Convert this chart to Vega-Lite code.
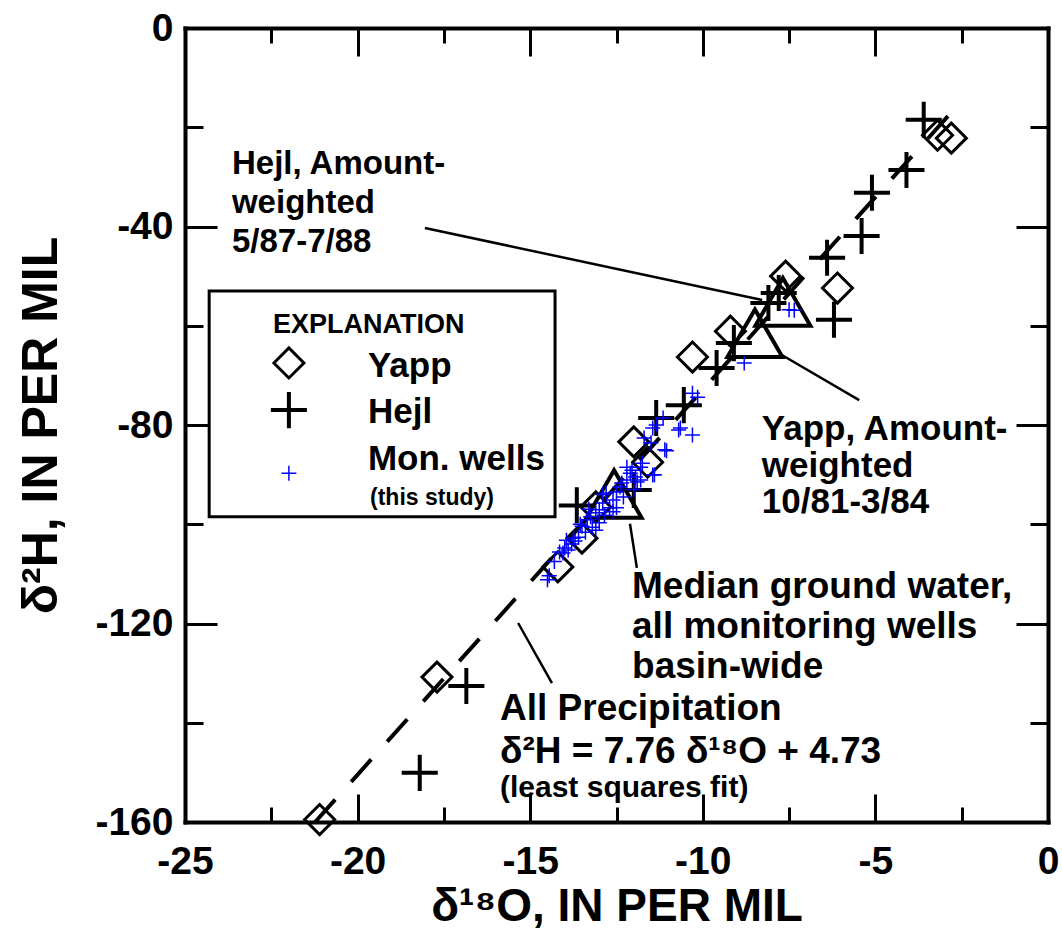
{
 "$schema": "https://vega.github.io/schema/vega-lite/v6.json",
 "width": 863, "height": 794,
 "autosize": {"type": "none"},
 "padding": {"left": 185, "top": 28, "right": 14, "bottom": 113},
 "background": "white",
 "config": {
  "view": {"stroke": null},
  "axis": {"grid": false, "domainColor": "#000", "tickColor": "#000", "labelColor": "#000", "titleColor": "#000", "labelFont": "Liberation Sans", "titleFont": "Liberation Sans", "labelFontWeight": "bold", "titleFontWeight": "bold", "labelFlush": false, "labelOverlap": false, "labelBound": false, "domainCap": "square", "tickWidth": 3, "domainWidth": 4},
  "text": {"font": "Liberation Sans", "fontWeight": "bold", "color": "#000", "align": "left", "baseline": "alphabetic"}
 },
 "datasets": {
  "pts": [
   {"series": "Yapp", "d18O": -21.1, "d2H": -159.5},
   {"series": "Yapp", "d18O": -17.7, "d2H": -130.8},
   {"series": "Yapp", "d18O": -14.2, "d2H": -108.6},
   {"series": "Yapp", "d18O": -13.5, "d2H": -102.8},
   {"series": "Yapp", "d18O": -13.1, "d2H": -96.5},
   {"series": "Yapp", "d18O": -12.0, "d2H": -83.4},
   {"series": "Yapp", "d18O": -11.6, "d2H": -87.5},
   {"series": "Yapp", "d18O": -10.3, "d2H": -66.3},
   {"series": "Yapp", "d18O": -9.2, "d2H": -61.1},
   {"series": "Yapp", "d18O": -7.6, "d2H": -50.0},
   {"series": "Yapp", "d18O": -6.1, "d2H": -52.4},
   {"series": "Yapp", "d18O": -3.2, "d2H": -21.6},
   {"series": "Yapp", "d18O": -2.8, "d2H": -22.2},
   {"series": "Hejl", "d18O": -18.2, "d2H": -150.1},
   {"series": "Hejl", "d18O": -16.85, "d2H": -132.6},
   {"series": "Hejl", "d18O": -13.65, "d2H": -96.2},
   {"series": "Hejl", "d18O": -12.0, "d2H": -93.1},
   {"series": "Hejl", "d18O": -11.35, "d2H": -78.6},
   {"series": "Hejl", "d18O": -10.55, "d2H": -76.0},
   {"series": "Hejl", "d18O": -9.6, "d2H": -68.5},
   {"series": "Hejl", "d18O": -9.1, "d2H": -63.5},
   {"series": "Hejl", "d18O": -8.1, "d2H": -55.4},
   {"series": "Hejl", "d18O": -7.8, "d2H": -53.4},
   {"series": "Hejl", "d18O": -6.2, "d2H": -58.8},
   {"series": "Hejl", "d18O": -6.4, "d2H": -46.3},
   {"series": "Hejl", "d18O": -5.4, "d2H": -41.9},
   {"series": "Hejl", "d18O": -5.1, "d2H": -33.2},
   {"series": "Hejl", "d18O": -4.1, "d2H": -28.6},
   {"series": "Hejl", "d18O": -3.6, "d2H": -18.5},
   {"series": "Mon", "d18O": -14.5, "d2H": -111.2},
   {"series": "Mon", "d18O": -14.45, "d2H": -110.4},
   {"series": "Mon", "d18O": -14.15, "d2H": -105.6},
   {"series": "Mon", "d18O": -14.0, "d2H": -104.8},
   {"series": "Mon", "d18O": -13.9, "d2H": -105.2},
   {"series": "Mon", "d18O": -14.05, "d2H": -105.8},
   {"series": "Mon", "d18O": -13.75, "d2H": -102.8},
   {"series": "Mon", "d18O": -13.6, "d2H": -102.6},
   {"series": "Mon", "d18O": -13.7, "d2H": -103.4},
   {"series": "Mon", "d18O": -13.4, "d2H": -101.6},
   {"series": "Mon", "d18O": -13.5, "d2H": -100.4},
   {"series": "Mon", "d18O": -13.35, "d2H": -99.1},
   {"series": "Mon", "d18O": -13.25, "d2H": -98.5},
   {"series": "Mon", "d18O": -13.2, "d2H": -100.6},
   {"series": "Mon", "d18O": -13.1, "d2H": -101.2},
   {"series": "Mon", "d18O": -13.1, "d2H": -97.7},
   {"series": "Mon", "d18O": -13.0, "d2H": -97.1},
   {"series": "Mon", "d18O": -13.0, "d2H": -99.7},
   {"series": "Mon", "d18O": -12.9, "d2H": -95.7},
   {"series": "Mon", "d18O": -12.8, "d2H": -93.7},
   {"series": "Mon", "d18O": -12.7, "d2H": -96.7},
   {"series": "Mon", "d18O": -12.6, "d2H": -95.1},
   {"series": "Mon", "d18O": -12.5, "d2H": -96.7},
   {"series": "Mon", "d18O": -12.5, "d2H": -93.5},
   {"series": "Mon", "d18O": -12.4, "d2H": -92.5},
   {"series": "Mon", "d18O": -12.3, "d2H": -94.5},
   {"series": "Mon", "d18O": -12.2, "d2H": -91.1},
   {"series": "Mon", "d18O": -12.35, "d2H": -91.7},
   {"series": "Mon", "d18O": -12.2, "d2H": -88.5},
   {"series": "Mon", "d18O": -12.1, "d2H": -89.7},
   {"series": "Mon", "d18O": -12.05, "d2H": -89.1},
   {"series": "Mon", "d18O": -11.95, "d2H": -90.5},
   {"series": "Mon", "d18O": -11.9, "d2H": -91.5},
   {"series": "Mon", "d18O": -11.8, "d2H": -88.5},
   {"series": "Mon", "d18O": -11.75, "d2H": -87.7},
   {"series": "Mon", "d18O": -11.8, "d2H": -91.1},
   {"series": "Mon", "d18O": -11.45, "d2H": -90.1},
   {"series": "Mon", "d18O": -11.4, "d2H": -90.0},
   {"series": "Mon", "d18O": -11.7, "d2H": -82.6},
   {"series": "Mon", "d18O": -11.5, "d2H": -83.6},
   {"series": "Mon", "d18O": -11.45, "d2H": -80.6},
   {"series": "Mon", "d18O": -11.35, "d2H": -80.0},
   {"series": "Mon", "d18O": -11.15, "d2H": -78.6},
   {"series": "Mon", "d18O": -11.1, "d2H": -85.0},
   {"series": "Mon", "d18O": -11.05, "d2H": -85.2},
   {"series": "Mon", "d18O": -10.7, "d2H": -81.0},
   {"series": "Mon", "d18O": -10.65, "d2H": -80.6},
   {"series": "Mon", "d18O": -10.3, "d2H": -82.0},
   {"series": "Mon", "d18O": -10.3, "d2H": -73.6},
   {"series": "Mon", "d18O": -10.15, "d2H": -74.4},
   {"series": "Mon", "d18O": -8.8, "d2H": -67.5},
   {"series": "Mon", "d18O": -7.5, "d2H": -56.8},
   {"series": "Mon", "d18O": -7.35, "d2H": -56.9},
   {"series": "Mon", "d18O": -12.6, "d2H": -97.5},
   {"series": "Mon", "d18O": -12.85, "d2H": -98.2},
   {"series": "Mon", "d18O": -13.3, "d2H": -97.0},
   {"series": "Mon", "d18O": -12.0, "d2H": -93.0},
   {"series": "Mon", "d18O": -12.9, "d2H": -94.0},
   {"series": "Mon", "d18O": -13.55, "d2H": -100.0},
   {"series": "Mon", "d18O": -13.8, "d2H": -104.0},
   {"series": "Mon", "d18O": -14.3, "d2H": -107.5},
   {"series": "Mon", "d18O": -13.95, "d2H": -103.2}
  ],
  "key": [
   {"series": "Yapp", "d18O": -21.99, "d2H": -67.5},
   {"series": "Hejl", "d18O": -21.99, "d2H": -77.0},
   {"series": "Mon", "d18O": -21.99, "d2H": -89.7}
  ],
  "weighted": [
   {"label": "Hejl amount-weighted", "d18O": -7.68, "d2H": -55.2},
   {"label": "Yapp amount-weighted", "d18O": -8.49, "d2H": -61.5},
   {"label": "Median ground water", "d18O": -12.57, "d2H": -93.9}
  ],
  "fit": [
   {"d18O": -21.23, "d2H": -160.0},
   {"d18O": -2.75, "d2H": -16.61}
  ],
  "leaders": [
   {"x1": -18.05, "y1": -40.3, "x2": -8.28, "y2": -54.8},
   {"x1": -7.71, "y1": -65.9, "x2": -5.47, "y2": -75.0},
   {"x1": -12.11, "y1": -99.9, "x2": -11.91, "y2": -108.8},
   {"x1": -15.35, "y1": -119.9, "x2": -14.37, "y2": -132.0}
  ],
  "box": [
   {"x1": -24.3, "x2": -14.28, "y1": -53.0, "y2": -98.5}
  ],
  "annHejl": [
   {"d18O": -23.64, "d2H": -29.4, "text": "Hejl, Amount-"},
   {"d18O": -23.64, "d2H": -37.3, "text": "weighted"},
   {"d18O": -23.64, "d2H": -45.2, "text": "5/87-7/88"}
  ],
  "annYapp": [
   {"d18O": -8.29, "d2H": -83.0, "text": "Yapp, Amount-"},
   {"d18O": -8.29, "d2H": -90.5, "text": "weighted"},
   {"d18O": -8.29, "d2H": -97.8, "text": "10/81-3/84"},
   {"d18O": -19.7, "d2H": -70.3, "text": "Yapp"},
   {"d18O": -19.7, "d2H": -79.6, "text": "Hejl"},
   {"d18O": -19.7, "d2H": -89.1, "text": "Mon. wells"}
  ],
  "annBig": [
   {"d18O": -12.05, "d2H": -114.9, "text": "Median ground water,"},
   {"d18O": -12.05, "d2H": -122.9, "text": "all monitoring wells"},
   {"d18O": -12.05, "d2H": -131.0, "text": "basin-wide"},
   {"d18O": -15.875, "d2H": -139.4, "text": "All Precipitation"},
   {"d18O": -15.875, "d2H": -148.1, "text": "δ²H = 7.76 δ¹⁸O + 4.73"}
  ],
  "head": [
   {"d18O": -22.45, "d2H": -61.5, "text": "EXPLANATION"}
  ],
  "small": [
   {"d18O": -15.875, "d2H": -155.0, "text": "(least squares fit)"}
  ],
  "tiny": [
   {"d18O": -19.64, "d2H": -96.1, "text": "(this study)"}
  ]
 },
 "layer": [
  {
   "data": {"name": "box"},
   "mark": {"type": "rect", "fill": "white", "stroke": "#000", "strokeWidth": 3},
   "encoding": {
    "x": {"field": "x1", "type": "quantitative", "scale": {"domain": [-25, 0], "nice": false, "zero": false},
          "axis": {"orient": "bottom", "values": [-25, -20, -15, -10, -5, 0], "labelExpr": "'' + datum.value", "tickSize": -28, "labelPadding": 48, "labelFontSize": 39, "title": "δ¹⁸O, IN PER MIL", "titleFontSize": 46, "titlePadding": 3}},
    "x2": {"field": "x2"},
    "y": {"field": "y1", "type": "quantitative", "scale": {"domain": [-160, 0], "nice": false, "zero": false},
          "axis": {"orient": "left", "values": [0, -40, -80, -120, -160], "labelExpr": "'' + datum.value", "tickSize": -32, "labelPadding": 44, "labelFontSize": 39, "title": "δ²H, IN PER MIL", "titleFontSize": 50, "titlePadding": 28}},
    "y2": {"field": "y2"}
   }
  },
  {
   "data": {"name": "leaders"},
   "mark": {"type": "rule", "stroke": "#000", "strokeWidth": 2.5},
   "encoding": {
    "x": {"field": "x1", "type": "quantitative", "scale": {"domain": [-25, 0], "nice": false, "zero": false},
          "axis": {"orient": "top", "values": [-25, -20, -15, -10, -5, 0], "tickSize": -28, "labels": false, "title": null}},
    "x2": {"field": "x2"},
    "y": {"field": "y1", "type": "quantitative", "scale": {"domain": [-160, 0], "nice": false, "zero": false},
          "axis": {"orient": "right", "values": [0, -40, -80, -120, -160], "tickSize": -32, "labels": false, "title": null}},
    "y2": {"field": "y2"}
   }
  },
  {
   "data": {"name": "pts"},
   "transform": [{"filter": "datum.series === 'Yapp'"}],
   "mark": {"type": "point", "shape": "diamond", "filled": false, "stroke": "#000", "strokeWidth": 3, "size": 900, "opacity": 1},
   "encoding": {
    "x": {"field": "d18O", "type": "quantitative", "scale": {"domain": [-25, 0], "nice": false, "zero": false},
          "axis": {"orient": "bottom", "values": [-22.5, -17.5, -12.5, -7.5, -2.5], "tickSize": -15, "labels": false, "domain": false, "title": null}},
    "y": {"field": "d2H", "type": "quantitative", "scale": {"domain": [-160, 0], "nice": false, "zero": false},
          "axis": {"orient": "left", "values": [-20, -60, -100, -140], "tickSize": -18, "labels": false, "domain": false, "title": null}}
   }
  },
  {
   "data": {"name": "pts"},
   "transform": [{"filter": "datum.series === 'Hejl'"}],
   "mark": {"type": "point", "shape": "M-1,0H1M0,-1V1", "filled": false, "stroke": "#000", "strokeWidth": 4, "size": 1300, "opacity": 1},
   "encoding": {
    "x": {"field": "d18O", "type": "quantitative", "scale": {"domain": [-25, 0], "nice": false, "zero": false},
          "axis": {"orient": "top", "values": [-22.5, -17.5, -12.5, -7.5, -2.5], "tickSize": -15, "labels": false, "domain": false, "title": null}},
    "y": {"field": "d2H", "type": "quantitative", "scale": {"domain": [-160, 0], "nice": false, "zero": false},
          "axis": {"orient": "right", "values": [-20, -60, -100, -140], "tickSize": -18, "labels": false, "domain": false, "title": null}}
   }
  },
  {
   "data": {"name": "weighted"},
   "mark": {"type": "point", "shape": "triangle-up", "filled": false, "stroke": "#000", "strokeWidth": 4, "size": 3025, "opacity": 1},
   "encoding": {
    "x": {"field": "d18O", "type": "quantitative", "scale": {"domain": [-25, 0], "nice": false, "zero": false}, "axis": null},
    "y": {"field": "d2H", "type": "quantitative", "scale": {"domain": [-160, 0], "nice": false, "zero": false}, "axis": null}
   }
  },
  {
   "data": {"name": "fit"},
   "mark": {"type": "line", "stroke": "#000", "strokeWidth": 4, "strokeDash": [30, 24]},
   "encoding": {
    "x": {"field": "d18O", "type": "quantitative", "scale": {"domain": [-25, 0], "nice": false, "zero": false}, "axis": null},
    "y": {"field": "d2H", "type": "quantitative", "scale": {"domain": [-160, 0], "nice": false, "zero": false}, "axis": null}
   }
  },
  {
   "data": {"name": "pts"},
   "transform": [{"filter": "datum.series === 'Mon'"}],
   "mark": {"type": "point", "shape": "M-1,0H1M0,-1V1", "filled": false, "stroke": "#0000ff", "strokeWidth": 1.5, "size": 225, "opacity": 1},
   "encoding": {
    "x": {"field": "d18O", "type": "quantitative", "scale": {"domain": [-25, 0], "nice": false, "zero": false}, "axis": null},
    "y": {"field": "d2H", "type": "quantitative", "scale": {"domain": [-160, 0], "nice": false, "zero": false}, "axis": null}
   }
  },
  {
   "data": {"name": "key"},
   "transform": [{"filter": "datum.series === 'Yapp'"}],
   "mark": {"type": "point", "shape": "diamond", "filled": false, "stroke": "#000", "strokeWidth": 3, "size": 900, "opacity": 1},
   "encoding": {
    "x": {"field": "d18O", "type": "quantitative", "scale": {"domain": [-25, 0], "nice": false, "zero": false}, "axis": null},
    "y": {"field": "d2H", "type": "quantitative", "scale": {"domain": [-160, 0], "nice": false, "zero": false}, "axis": null}
   }
  },
  {
   "data": {"name": "key"},
   "transform": [{"filter": "datum.series === 'Hejl'"}],
   "mark": {"type": "point", "shape": "M-1,0H1M0,-1V1", "filled": false, "stroke": "#000", "strokeWidth": 4, "size": 1300, "opacity": 1},
   "encoding": {
    "x": {"field": "d18O", "type": "quantitative", "scale": {"domain": [-25, 0], "nice": false, "zero": false}, "axis": null},
    "y": {"field": "d2H", "type": "quantitative", "scale": {"domain": [-160, 0], "nice": false, "zero": false}, "axis": null}
   }
  },
  {
   "data": {"name": "key"},
   "transform": [{"filter": "datum.series === 'Mon'"}],
   "mark": {"type": "point", "shape": "M-1,0H1M0,-1V1", "filled": false, "stroke": "#0000ff", "strokeWidth": 1.5, "size": 225, "opacity": 1},
   "encoding": {
    "x": {"field": "d18O", "type": "quantitative", "scale": {"domain": [-25, 0], "nice": false, "zero": false}, "axis": null},
    "y": {"field": "d2H", "type": "quantitative", "scale": {"domain": [-160, 0], "nice": false, "zero": false}, "axis": null}
   }
  },
  {
   "data": {"name": "annHejl"},
   "mark": {"type": "text", "fontSize": 33},
   "encoding": {
    "x": {"field": "d18O", "type": "quantitative", "scale": {"domain": [-25, 0], "nice": false, "zero": false}, "axis": null},
    "y": {"field": "d2H", "type": "quantitative", "scale": {"domain": [-160, 0], "nice": false, "zero": false}, "axis": null},
    "text": {"field": "text"}
   }
  },
  {
   "data": {"name": "annYapp"},
   "mark": {"type": "text", "fontSize": 35},
   "encoding": {
    "x": {"field": "d18O", "type": "quantitative", "scale": {"domain": [-25, 0], "nice": false, "zero": false}, "axis": null},
    "y": {"field": "d2H", "type": "quantitative", "scale": {"domain": [-160, 0], "nice": false, "zero": false}, "axis": null},
    "text": {"field": "text"}
   }
  },
  {
   "data": {"name": "annBig"},
   "mark": {"type": "text", "fontSize": 37},
   "encoding": {
    "x": {"field": "d18O", "type": "quantitative", "scale": {"domain": [-25, 0], "nice": false, "zero": false}, "axis": null},
    "y": {"field": "d2H", "type": "quantitative", "scale": {"domain": [-160, 0], "nice": false, "zero": false}, "axis": null},
    "text": {"field": "text"}
   }
  },
  {
   "data": {"name": "head"},
   "mark": {"type": "text", "fontSize": 27},
   "encoding": {
    "x": {"field": "d18O", "type": "quantitative", "scale": {"domain": [-25, 0], "nice": false, "zero": false}, "axis": null},
    "y": {"field": "d2H", "type": "quantitative", "scale": {"domain": [-160, 0], "nice": false, "zero": false}, "axis": null},
    "text": {"field": "text"}
   }
  },
  {
   "data": {"name": "small"},
   "mark": {"type": "text", "fontSize": 30},
   "encoding": {
    "x": {"field": "d18O", "type": "quantitative", "scale": {"domain": [-25, 0], "nice": false, "zero": false}, "axis": null},
    "y": {"field": "d2H", "type": "quantitative", "scale": {"domain": [-160, 0], "nice": false, "zero": false}, "axis": null},
    "text": {"field": "text"}
   }
  },
  {
   "data": {"name": "tiny"},
   "mark": {"type": "text", "fontSize": 23},
   "encoding": {
    "x": {"field": "d18O", "type": "quantitative", "scale": {"domain": [-25, 0], "nice": false, "zero": false}, "axis": null},
    "y": {"field": "d2H", "type": "quantitative", "scale": {"domain": [-160, 0], "nice": false, "zero": false}, "axis": null},
    "text": {"field": "text"}
   }
  }
 ],
 "resolve": {"axis": {"x": "independent", "y": "independent"}}
}
